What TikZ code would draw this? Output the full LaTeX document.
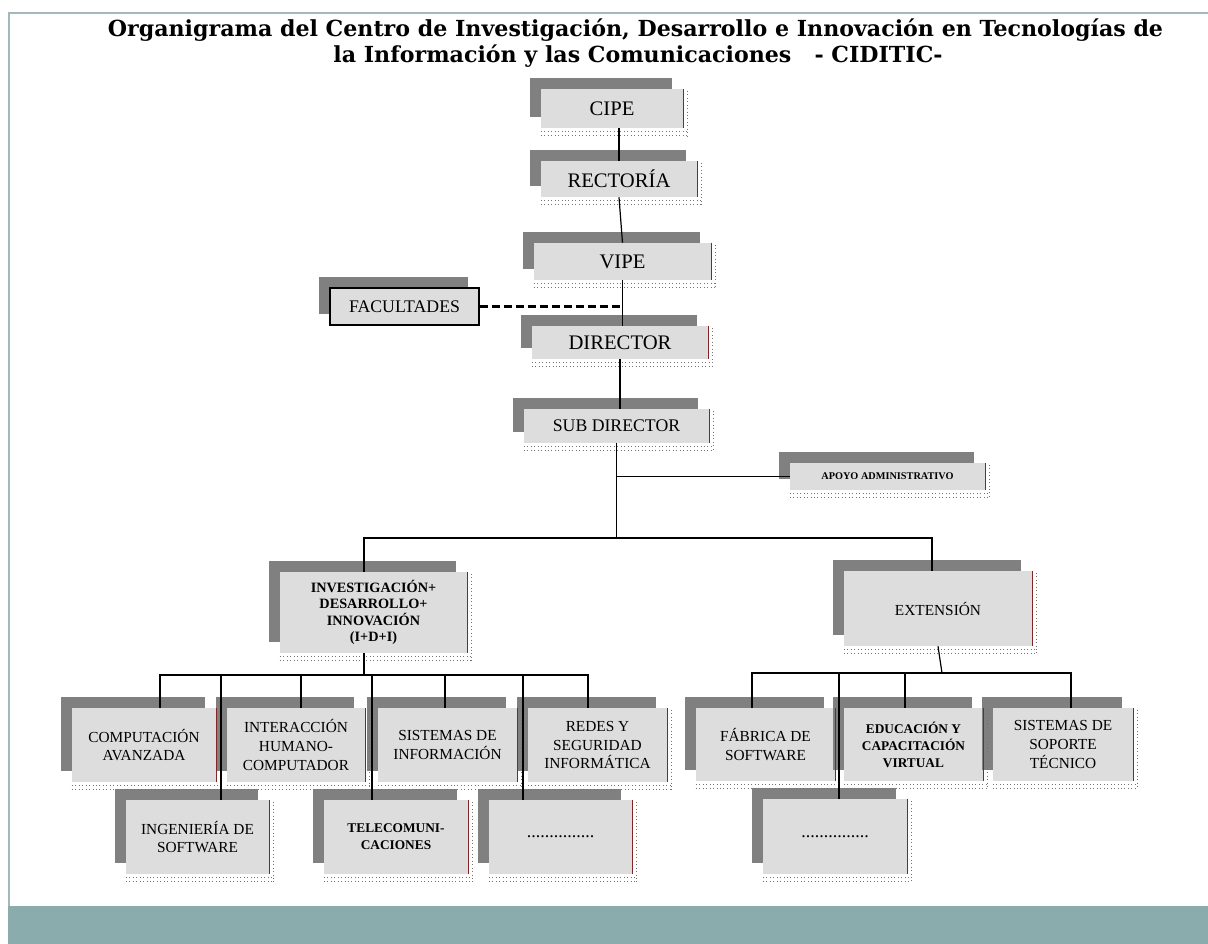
\documentclass[tikz,border=0pt]{standalone}
\usepackage{fontspec}
\setmainfont{Liberation Serif}
\newfontfamily\titlefont{DejaVu Serif}
\usetikzlibrary{arrows.meta, shadows, calc}

\definecolor{ShadowGray}{HTML}{808080}
\definecolor{BoxGray}{HTML}{DDDDDD}
\definecolor{EdgeRed}{HTML}{802626}
\definecolor{FrameTeal}{HTML}{A3B8B8}
\definecolor{BandTeal}{HTML}{8BACAC}

\tikzset{
        boxsize/.style 2 args={minimum width=#1*0.75pt, minimum height=#2*0.75pt},
        orgbox/.style={rectangle, fill=BoxGray, inner sep=0pt, align=center,
                general shadow={fill=ShadowGray, shadow xshift=-8.25pt, shadow yshift=8.25pt}},
        link/.style={line width=0.9pt},
        fringe/.style={dotted, line width=0.6pt, black!55},
        rim/.style={EdgeRed, line width=0.6pt},
        fsBig/.style={font=\fontsize{15.5}{18}\selectfont},
        fsMid/.style={font=\fontsize{13.3}{16}\selectfont},
        fsText/.style={font=\fontsize{11.5}{14}\selectfont},
        fsBold/.style={font=\fontsize{10}{12.75}\selectfont\bfseries},
        fsIdi/.style={font=\fontsize{10.7}{12.3}\selectfont\bfseries},
        fsApoyo/.style={font=\fontsize{7.7}{9}\selectfont\bfseries},
        fsTitle/.style={font=\titlefont\bfseries\fontsize{16.6}{19}\selectfont}
}

\begin{document}
\begin{tikzpicture}[x=0.75pt, y=-0.75pt]
        \useasboundingbox (0,0) rectangle (1208,944);
        \fill[BandTeal] (8,906) rectangle (1208,944);
        \draw[FrameTeal, line width=1.1pt] (9,906) -- (9,13) -- (1208,13);

        \node (title1) at (635.5,37)[anchor=base, fsTitle] {Organigrama del Centro de Investigación, Desarrollo e Innovación en Tecnologías de};
        \node (title2) at (638,63)[anchor=base, fsTitle] {la Información y las Comunicaciones\ \ \ - CIDITIC-};

        \node (cipe) at (612,108.5)[orgbox, boxsize={142}{39}, fsBig] {CIPE};
        \node (rect) at (619,179)[orgbox, boxsize={156}{36}, fsBig] {RECTORÍA};
        \node (vipe) at (622.5,261.5)[orgbox, boxsize={177}{37}, fsBig] {VIPE};
        \node (fac) at (404.5,306.5)[orgbox, draw=black, line width=0.9pt, boxsize={149}{37}, fsMid] {FACULTADES};
        \node (dir) at (620,342.5)[orgbox, boxsize={176}{33}, fsBig] {DIRECTOR};
        \node (sub) at (616.5,426)[orgbox, boxsize={185}{34}, fsMid] {SUB DIRECTOR};
        \node (apoyo) at (887.5,476.5)[orgbox, boxsize={195}{27}, fsApoyo] {APOYO ADMINISTRATIVO};

        \node (idi) at (373.5,612.5)[orgbox, boxsize={187}{81}, fsIdi] {INVESTIGACIÓN+\\DESARROLLO+\\INNOVACIÓN\\(I+D+I)};
        \node (ext) at (938,608.5)[orgbox, boxsize={188}{75}, fsText] {EXTENSIÓN};

        \node (comp) at (144,745)[orgbox, boxsize={144}{74}, fsText] {COMPUTACIÓN\\AVANZADA};
        \node (inter) at (296,745)[orgbox, boxsize={138}{74}, fsText] {INTERACCIÓN\\HUMANO-\\COMPUTADOR};
        \node (sisinf) at (447.5,745)[orgbox, boxsize={139}{74}, fsText] {SISTEMAS DE\\INFORMACIÓN};
        \node (redes) at (597.5,745)[orgbox, boxsize={139}{74}, fsText] {REDES Y\\SEGURIDAD\\INFORMÁTICA};
        \node (ing) at (197.5,837)[orgbox, boxsize={143}{74}, fsText] {INGENIERÍA DE\\SOFTWARE};
        \node (tele) at (396,837)[orgbox, boxsize={144}{74}, fsBold] {TELECOMUNI-\\CACIONES};
        \node (dots1) at (560.5,837)[orgbox, boxsize={143}{74}, font=\fontsize{13.5}{14}\selectfont] {...............};

        \node (fab) at (765.5,744.5)[orgbox, boxsize={139}{73}, fsText] {FÁBRICA DE\\SOFTWARE};
        \node (edu) at (913.5,744.5)[orgbox, boxsize={139}{73}, fsBold] {EDUCACIÓN Y\\CAPACITACIÓN\\VIRTUAL};
        \node (soporte) at (1063,744.5)[orgbox, boxsize={140}{73}, fsText] {SISTEMAS DE\\SOPORTE\\TÉCNICO};
        \node (dots2) at (835,836.5)[orgbox, boxsize={144}{75}, font=\fontsize{13.5}{14}\selectfont] {...............};

        \foreach \n in {cipe,rect,vipe,dir,sub,apoyo,idi,ext,comp,inter,sisinf,redes,ing,tele,dots1,fab,edu,soporte,dots2} {
                \draw[rim] (\n.north east) -- (\n.south east);
                \draw[fringe] ($(\n.north east)+(4,2)$) -- ($(\n.south east)+(4,8)$);
                \draw[fringe] ($(\n.south west)+(0,3)$) -- ($(\n.south east)+(4,3)$);
                \draw[fringe] ($(\n.south west)+(0,7)$) -- ($(\n.south east)+(4,7)$);
        }

        \coordinate (branch) at (616.5,538);
        \coordinate (idibus) at (364,675);
        \coordinate (extbus) at (942,673);

        \draw[link] (cipe.south -| rect.north) -- (rect.north);
        \draw[link] (rect.south) -- (vipe.north);
        \draw[link] (vipe.south) -- (vipe.south |- dir.north);
        \draw[line width=1.6pt, dash pattern=on 6pt off 3pt] (fac.east) -- (fac.east -| vipe.south);
        \draw[link] (dir.south) -- (dir.south |- sub.north);
        \draw[link] (sub.south) -- (branch);
        \draw[link] (sub.south |- apoyo.west) -- (apoyo.west);
        \draw[link] ($(idi.north)+(-9.5,0)$) |- (branch) -| ($(ext.north)+(-6,0)$);
        \draw[link] (idi.south -| idibus) -- (idibus);
        \draw[link] (ext.south) -- (extbus);
        \foreach \n/\dx in {comp/16, inter/5, sisinf/-2.5, redes/-9.5, ing/23.5, tele/-24, dots1/-37.5}
                \draw[link] ($(\n.north)+(\dx,0)$) |- (idibus);
        \foreach \n/\dx in {fab/-13.5, edu/-8.5, soporte/8, dots2/4}
                \draw[link] ($(\n.north)+(\dx,0)$) |- (extbus);
\end{tikzpicture}
\end{document}
